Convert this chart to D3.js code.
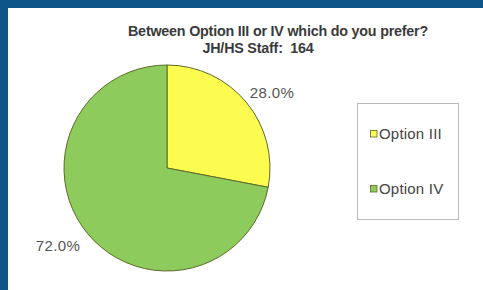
<html>
<head>
<script src="https://d3js.org/d3.v7.min.js" charset="utf-8"></script>
<style>
  body { margin: 0; background: #ffffff; }
</style>
</head>
<body>
<svg id="chart"></svg>
<script>
// chart data
var categories = ["Option III", "Option IV"];
var values = [28.0, 72.0];
var colors = ["#fbfb50", "#8dcc5c"];
var titleLines = ["Between Option III or IV which do you prefer?", "JH/HS Staff:  164"];

var w = 483, h = 290;
var svg = d3.select("#chart").attr("width", w).attr("height", h);

// blue frame on top and left
svg.append("rect").attr("x", 0).attr("y", 0).attr("width", w).attr("height", h).style("fill", "#0b5587");
svg.append("rect").attr("x", 8).attr("y", 8).attr("width", w - 8).attr("height", h - 8).style("fill", "#ffffff");

// title
svg.selectAll("text.title")
    .data(titleLines)
    .enter()
    .append("text")
    .attr("class", "title")
    .attr("x", function(d, i){ return i == 0 ? 278 : 258; })
    .attr("y", function(d, i){ return 36 + i * 17; })
    .attr("text-anchor", "middle").attr("font-family", "Liberation Sans, Arial")
    .attr("font-size", 14.3).attr("font-weight", "bold").attr("fill", "#3a3a3a")
    .style("white-space", "pre")
    .style("letter-spacing", "-0.2px")
    .text(function(d){ return d; });

// pie
var cx = 167, cy = 168, r = 103;
var pie = d3.pie().sort(null).value(function(d){ return d; });
var arc = d3.arc().innerRadius(0).outerRadius(r);
var arcs = pie(values);

var g = svg.append("g").attr("transform", "translate(" + cx + "," + cy + ")");
g.selectAll("path")
    .data(arcs)
    .enter()
    .append("path")
    .attr("d", arc)
    .style("fill", function(d, i){ return colors[i]; })
    .style("stroke", "#5c6a2a")
    .style("stroke-width", 1);

// percent labels, pushed outside the pie
var labelPos = [[272, 98], [58, 251]];
svg.selectAll("text.pct")
    .data(arcs)
    .enter()
    .append("text")
    .attr("class", "pct")
    .attr("x", function(d, i){ return labelPos[i][0]; })
    .attr("y", function(d, i){ return labelPos[i][1]; })
    .attr("text-anchor", "middle")
    .attr("font-family", "Liberation Sans, Arial")
    .attr("font-size", 15)
    .attr("fill", "#555")
    .style("letter-spacing", "0.4px")
    .text(function(d){ return d.data.toFixed(1) + "%"; });

// legend
svg.append("rect").attr("x", 357.5).attr("y", 103.5).attr("width", 101).attr("height", 116)
    .style("fill", "#fff").style("stroke", "#bbb").style("stroke-width", 1);

var legendY = d3.scalePoint().domain(categories).range([134, 189]);
var lg = svg.selectAll("g.leg")
    .data(categories)
    .enter()
    .append("g")
    .attr("class", "leg")
    .attr("transform", function(d){ return "translate(370," + legendY(d) + ")"; });
lg.append("rect").attr("x", 0.5).attr("y", -3.5).attr("width", 6.5).attr("height", 6.5)
    .style("fill", function(d, i){ return colors[i]; })
    .style("stroke", "#5c6a2a").style("stroke-width", 0.8);
lg.append("text").attr("x", 9).attr("y", 5)
    .attr("font-family", "Liberation Sans, Arial")
    .attr("font-size", 15).attr("fill", "#444")
    .style("letter-spacing", "0.2px")
    .text(function(d){ return d; });
</script>
</body>
</html>
